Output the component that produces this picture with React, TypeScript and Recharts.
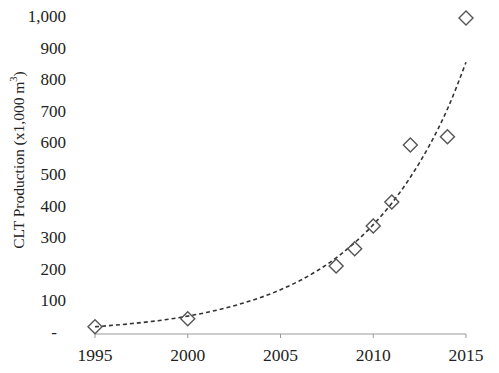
import React from 'react';
import { ComposedChart, Scatter, Line, XAxis, YAxis } from 'recharts';

const obsYears = [1995, 2000, 2008, 2009, 2010, 2011, 2012, 2014, 2015];
const obsValues = [23, 48, 215, 270, 342, 418, 598, 624, 1000];

// dashed trend curve
const trendYears = [1995, 1997, 1999, 2001, 2003, 2005, 2007, 2008, 2009, 2010, 2011, 2012, 2013, 2014, 2015];
const trendValues = [23, 33, 47, 68, 98, 140, 201, 241, 289, 346, 414, 496, 594, 712, 860];

const xTicks = [1995, 2000, 2005, 2010, 2015];
const yTicks = [0, 100, 200, 300, 400, 500, 600, 700, 800, 900, 1000];

const obsData = obsYears.map((year, i) => ({ year, value: obsValues[i] }));
const trendData = trendYears.map((year, i) => ({ year, trend: trendValues[i] }));

const FONT = 'Liberation Serif';

const Diamond = (props: any) => {
  const { cx, cy } = props;
  if (cx == null || cy == null) return null;
  const r = 7;
  return (
    <polygon
      points={`${cx},${cy - r} ${cx + r},${cy} ${cx},${cy + r} ${cx - r},${cy}`}
      fill="none"
      stroke="#555"
      strokeWidth={1.4}
    />
  );
};

const XTick = (props: any) => {
  const { x, y, payload } = props;
  return (
    <text
      x={x}
      y={y}
      dy="0.71em"
      textAnchor="middle"
      fill="#222"
      style={{ fontFamily: FONT, fontSize: 17.5 }}
    >
      {payload.value}
    </text>
  );
};

const YTick = (props: any) => {
  const { x, y, payload } = props;
  const v = payload.value;
  const text = v === 0 ? '-' : v.toLocaleString('en-US');
  return (
    <text
      x={v === 0 ? x - 9 : x}
      y={y - 2}
      dy="0.355em"
      textAnchor="end"
      fill="#222"
      style={{ fontFamily: FONT, fontSize: 17 }}
    >
      {text}
    </text>
  );
};

const YLabel = (props: any) => {
  const { viewBox } = props;
  const cx = viewBox.x + 10;
  const cy = viewBox.y + viewBox.height / 2 - 16;
  return (
    <text
      x={cx}
      y={cy}
      transform={`rotate(-90, ${cx}, ${cy})`}
      textAnchor="middle"
      dominantBaseline="central"
      fill="#222"
      style={{ fontFamily: FONT, fontSize: 15.5 }}
    >
      CLT Production (x1,000 m
      <tspan style={{ fontSize: 10.5 }} dy={-5}>3</tspan>
      <tspan dy={5}>)</tspan>
    </text>
  );
};

export default function App() {
  return (
    <ComposedChart
      width={491}
      height={365}
      margin={{ top: 10, right: 33, bottom: 0, left: 0 }}
      style={{ background: '#fff' }}
    >
      <XAxis
        type="number"
        dataKey="year"
        domain={[1995, 2015]}
        ticks={xTicks}
        height={39}
        stroke="#999"
        tickSize={4}
        tickMargin={11}
        tick={<XTick />}
      />
      <YAxis
        type="number"
        domain={[0, 1000]}
        ticks={yTicks}
        width={87}
        axisLine={false}
        tickLine={false}
        tickSize={0}
        tickMargin={29}
        tick={<YTick />}
        label={<YLabel />}
      />
      <Line
        data={trendData}
        dataKey="trend"
        type="monotone"
        stroke="#333"
        strokeWidth={1.6}
        strokeDasharray="4 3"
        dot={false}
        activeDot={false}
        isAnimationActive={false}
      />
      <Scatter
        data={obsData}
        dataKey="value"
        shape={<Diamond />}
        isAnimationActive={false}
      />
    </ComposedChart>
  );
}
